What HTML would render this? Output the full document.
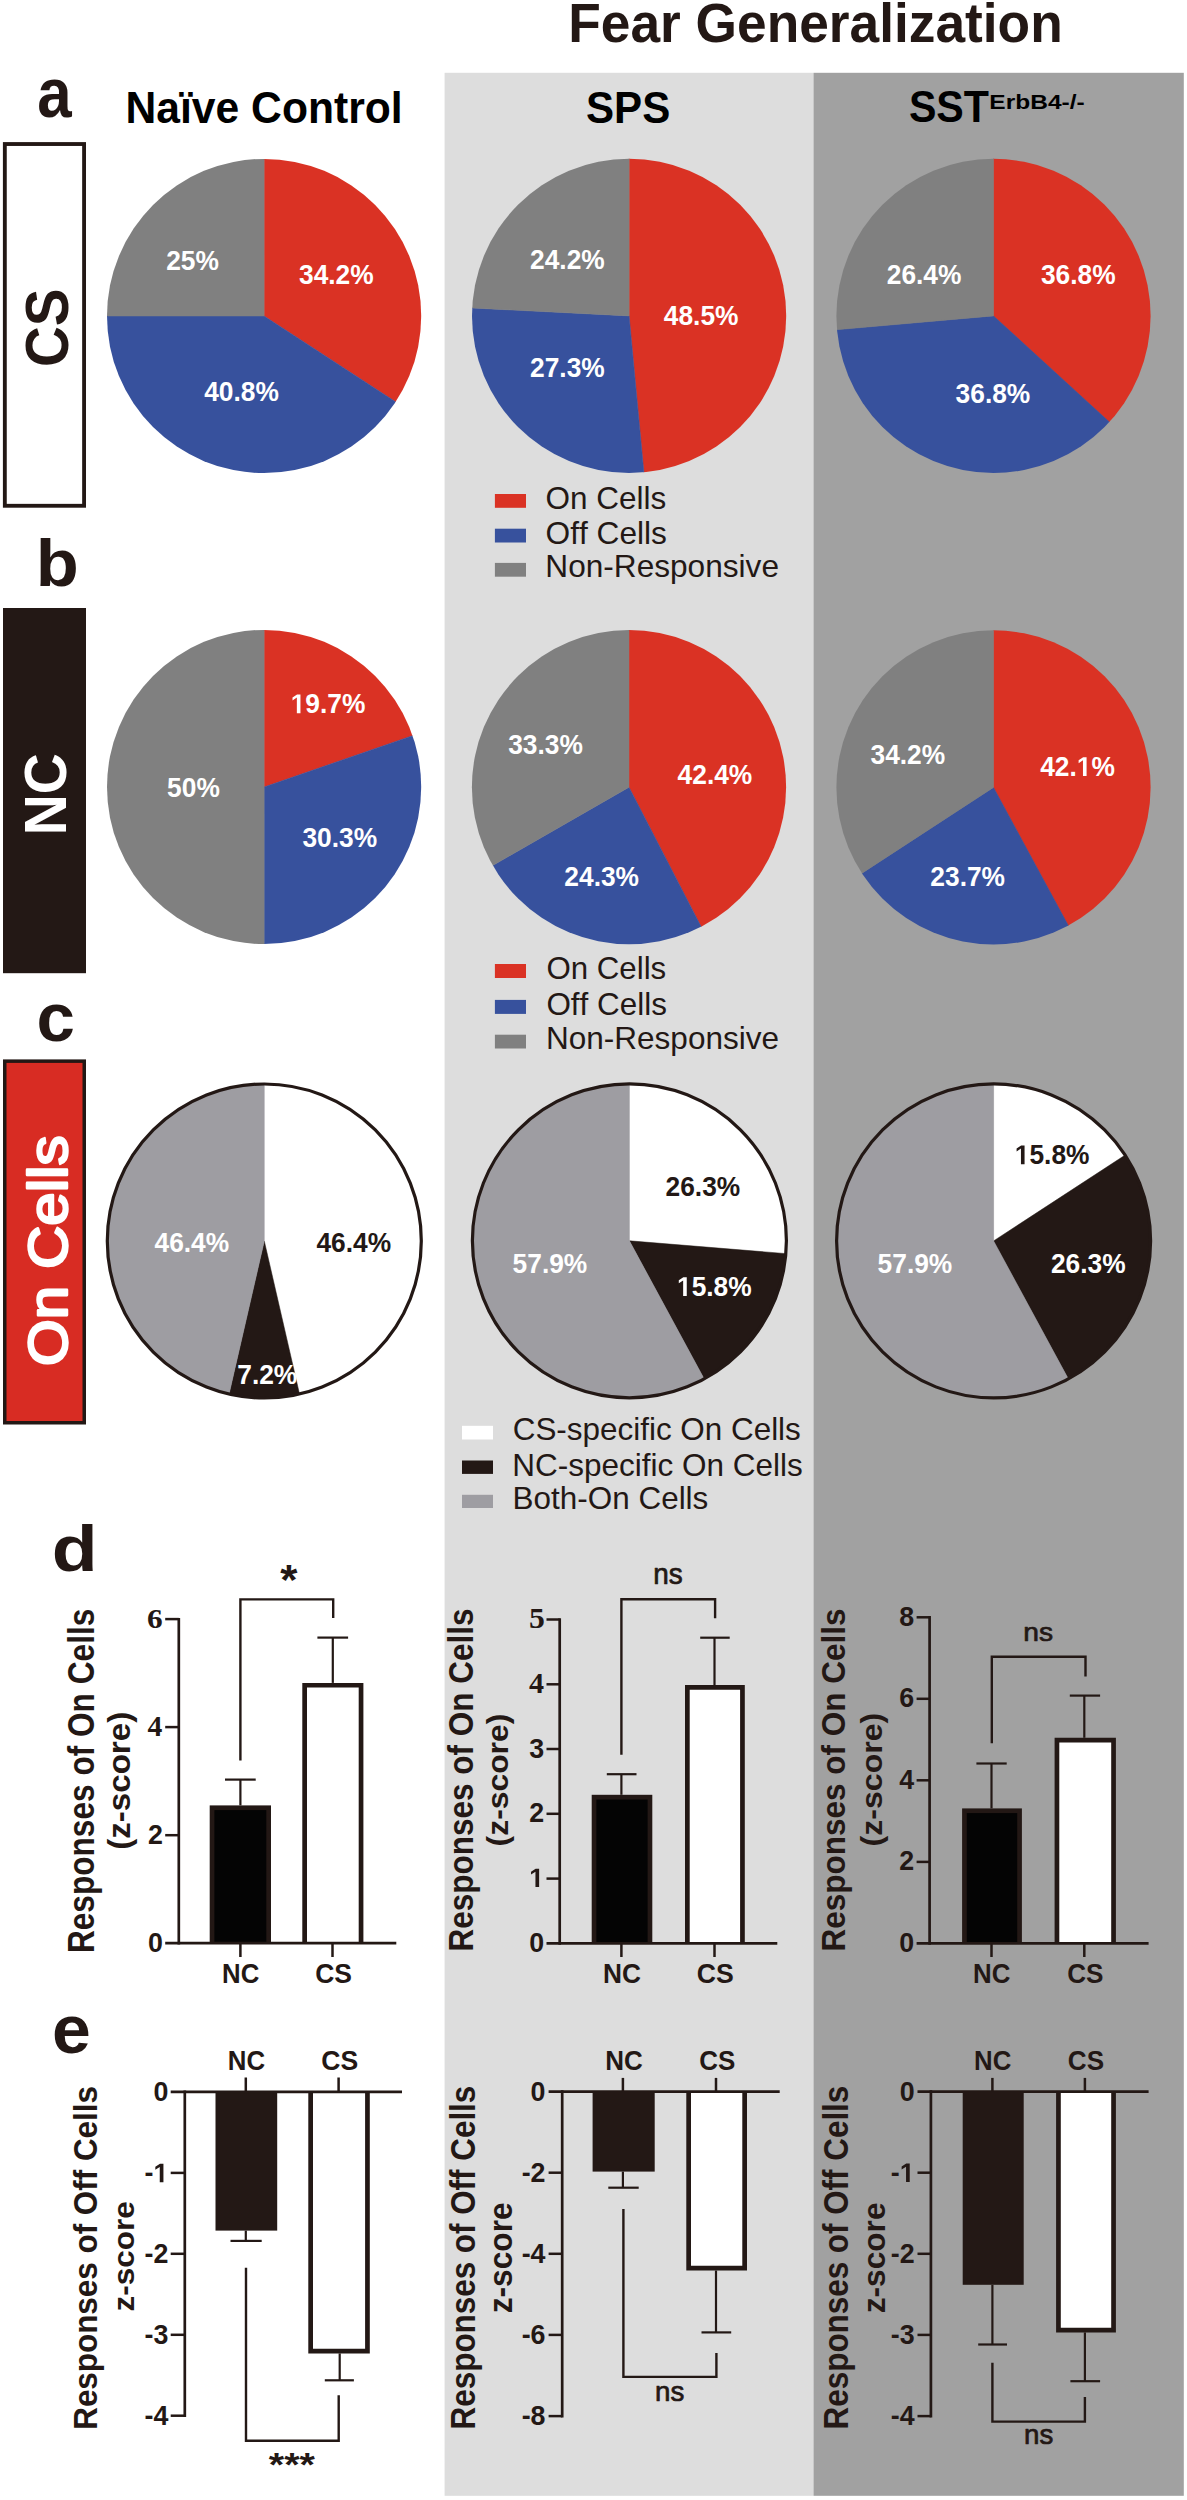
<!DOCTYPE html>
<html><head><meta charset="utf-8"><title>Fear Generalization</title>
<style>
html,body{margin:0;padding:0;background:#fff;}
svg{display:block;}
text{font-kerning:none;}
</style></head>
<body>
<svg width="1187" height="2500" viewBox="0 0 1187 2500">
<rect x="0" y="0" width="1187" height="2500" fill="#ffffff"/>
<rect x="444.60" y="72.80" width="369.20" height="2423.00" fill="#dddddd"/>
<rect x="813.60" y="72.80" width="370.20" height="2423.00" fill="#a1a1a1"/>
<text x="568.24" y="42.20" font-family='"Liberation Sans"' font-weight="700" font-size="55.81" textLength="494.47" lengthAdjust="spacingAndGlyphs" fill="#231815">Fear Generalization</text>
<text x="37.19" y="117.31" font-family='"Liberation Sans"' font-weight="700" font-size="70.64" textLength="34.42" lengthAdjust="spacingAndGlyphs" fill="#231815">a</text>
<text x="35.66" y="586.15" font-family='"Liberation Sans"' font-weight="700" font-size="66.86" textLength="43.03" lengthAdjust="spacingAndGlyphs" fill="#231815">b</text>
<text x="36.50" y="1041.13" font-family='"Liberation Sans"' font-weight="700" font-size="68.27" textLength="38.42" lengthAdjust="spacingAndGlyphs" fill="#231815">c</text>
<text x="51.72" y="1571.36" font-family='"Liberation Sans"' font-weight="700" font-size="65.36" textLength="45.94" lengthAdjust="spacingAndGlyphs" fill="#231815">d</text>
<text x="52.07" y="2053.04" font-family='"Liberation Sans"' font-weight="700" font-size="67.90" textLength="38.81" lengthAdjust="spacingAndGlyphs" fill="#231815">e</text>
<text x="125.55" y="122.60" font-family='"Liberation Sans"' font-weight="700" font-size="43.60" textLength="277.07" lengthAdjust="spacingAndGlyphs" fill="#000000">Naïve Control</text>
<text x="585.99" y="122.57" font-family='"Liberation Sans"' font-weight="700" font-size="44.35" textLength="84.26" lengthAdjust="spacingAndGlyphs" fill="#000000">SPS</text>
<text x="908.91" y="122.07" font-family='"Liberation Sans"' font-weight="700" font-size="43.78" textLength="80.03" lengthAdjust="spacingAndGlyphs" fill="#000000">SST</text>
<text x="989.36" y="109.00" font-family='"Liberation Sans"' font-weight="700" font-size="20.20" textLength="95.32" lengthAdjust="spacingAndGlyphs" fill="#000000">ErbB4-/-</text>
<rect x="4.83" y="144.03" width="79.25" height="361.75" fill="#ffffff" stroke="#231815" stroke-width="3.85"/>
<text x="-2.32" y="0.00" font-family='"Liberation Sans"' font-weight="700" font-size="60.59" textLength="78.63" lengthAdjust="spacingAndGlyphs" fill="#231815" transform="translate(68.01,364.80) rotate(-90)">CS</text>
<rect x="3.00" y="608.00" width="83.00" height="365.20" fill="#231815"/>
<text x="-3.80" y="0.00" font-family='"Liberation Sans"' font-weight="700" font-size="59.60" textLength="81.95" lengthAdjust="spacingAndGlyphs" fill="#ffffff" transform="translate(66.02,831.50) rotate(-90)">NC</text>
<rect x="4.75" y="1061.15" width="79.50" height="361.60" fill="#d82c23" stroke="#231815" stroke-width="3.5"/>
<text stroke="#ffffff" stroke-width="2.4" stroke-linejoin="round" x="-2.85" y="0.00" font-family='"Liberation Sans"' font-weight="400" font-size="54.60" textLength="230.42" lengthAdjust="spacingAndGlyphs" fill="#ffffff" transform="translate(66.67,1363.10) rotate(-90)">On Cells</text>
<clipPath id="pc1"><circle cx="264.1" cy="316.0" r="157.1"/></clipPath>
<g clip-path="url(#pc1)">
<path d="M264.10,316.00 L264.10,155.90 A160.1,160.1 0 0 1 398.19,403.48 Z" fill="#da3224" stroke="#da3224" stroke-width="0.5" stroke-linejoin="round"/>
<path d="M264.10,316.00 L398.19,403.48 A160.1,160.1 0 0 1 104.00,316.00 Z" fill="#37519d" stroke="#37519d" stroke-width="0.5" stroke-linejoin="round"/>
<path d="M264.10,316.00 L104.00,316.00 A160.1,160.1 0 0 1 264.10,155.90 Z" fill="#808080" stroke="#808080" stroke-width="0.5" stroke-linejoin="round"/>
</g>
<clipPath id="pc2"><circle cx="629.1" cy="315.9" r="157.1"/></clipPath>
<g clip-path="url(#pc2)">
<path d="M629.10,315.90 L629.10,155.80 A160.1,160.1 0 0 1 644.17,475.29 Z" fill="#da3224" stroke="#da3224" stroke-width="0.5" stroke-linejoin="round"/>
<path d="M629.10,315.90 L644.17,475.29 A160.1,160.1 0 0 1 469.20,307.86 Z" fill="#37519d" stroke="#37519d" stroke-width="0.5" stroke-linejoin="round"/>
<path d="M629.10,315.90 L469.20,307.86 A160.1,160.1 0 0 1 629.10,155.80 Z" fill="#808080" stroke="#808080" stroke-width="0.5" stroke-linejoin="round"/>
</g>
<clipPath id="pc3"><circle cx="993.5" cy="315.9" r="157.1"/></clipPath>
<g clip-path="url(#pc3)">
<path d="M993.50,315.90 L993.50,155.80 A160.1,160.1 0 0 1 1111.58,424.02 Z" fill="#da3224" stroke="#da3224" stroke-width="0.5" stroke-linejoin="round"/>
<path d="M993.50,315.90 L1111.58,424.02 A160.1,160.1 0 0 1 834.02,329.96 Z" fill="#37519d" stroke="#37519d" stroke-width="0.5" stroke-linejoin="round"/>
<path d="M993.50,315.90 L834.02,329.96 A160.1,160.1 0 0 1 993.50,155.80 Z" fill="#808080" stroke="#808080" stroke-width="0.5" stroke-linejoin="round"/>
</g>
<text x="166.13" y="269.70" font-family='"Liberation Sans"' font-weight="700" font-size="27.30" textLength="52.73" lengthAdjust="spacingAndGlyphs" fill="#ffffff">25%</text>
<text x="299.00" y="284.48" font-family='"Liberation Sans"' font-weight="700" font-size="27.30" textLength="74.70" lengthAdjust="spacingAndGlyphs" fill="#ffffff">34.2%</text>
<text x="204.20" y="401.20" font-family='"Liberation Sans"' font-weight="700" font-size="27.30" textLength="74.70" lengthAdjust="spacingAndGlyphs" fill="#ffffff">40.8%</text>
<text x="530.04" y="268.72" font-family='"Liberation Sans"' font-weight="700" font-size="27.30" textLength="74.70" lengthAdjust="spacingAndGlyphs" fill="#ffffff">24.2%</text>
<text x="663.80" y="325.00" font-family='"Liberation Sans"' font-weight="700" font-size="27.30" textLength="74.70" lengthAdjust="spacingAndGlyphs" fill="#ffffff">48.5%</text>
<text x="530.04" y="377.48" font-family='"Liberation Sans"' font-weight="700" font-size="27.30" textLength="74.70" lengthAdjust="spacingAndGlyphs" fill="#ffffff">27.3%</text>
<text x="886.74" y="284.40" font-family='"Liberation Sans"' font-weight="700" font-size="27.30" textLength="74.70" lengthAdjust="spacingAndGlyphs" fill="#ffffff">26.4%</text>
<text x="1040.90" y="284.38" font-family='"Liberation Sans"' font-weight="700" font-size="27.30" textLength="74.70" lengthAdjust="spacingAndGlyphs" fill="#ffffff">36.8%</text>
<text x="955.60" y="403.28" font-family='"Liberation Sans"' font-weight="700" font-size="27.30" textLength="74.70" lengthAdjust="spacingAndGlyphs" fill="#ffffff">36.8%</text>
<clipPath id="pc4"><circle cx="264.1" cy="787.0" r="157.1"/></clipPath>
<g clip-path="url(#pc4)">
<path d="M264.10,787.00 L264.10,626.90 A160.1,160.1 0 0 1 415.40,734.67 Z" fill="#da3224" stroke="#da3224" stroke-width="0.5" stroke-linejoin="round"/>
<path d="M264.10,787.00 L415.40,734.67 A160.1,160.1 0 0 1 264.10,947.10 Z" fill="#37519d" stroke="#37519d" stroke-width="0.5" stroke-linejoin="round"/>
<path d="M264.10,787.00 L264.10,947.10 A160.1,160.1 0 0 1 264.10,626.90 Z" fill="#808080" stroke="#808080" stroke-width="0.5" stroke-linejoin="round"/>
</g>
<clipPath id="pc5"><circle cx="629.0" cy="787.2" r="157.1"/></clipPath>
<g clip-path="url(#pc5)">
<path d="M629.00,787.20 L629.00,627.10 A160.1,160.1 0 0 1 702.58,929.39 Z" fill="#da3224" stroke="#da3224" stroke-width="0.5" stroke-linejoin="round"/>
<path d="M629.00,787.20 L702.58,929.39 A160.1,160.1 0 0 1 490.18,866.96 Z" fill="#37519d" stroke="#37519d" stroke-width="0.5" stroke-linejoin="round"/>
<path d="M629.00,787.20 L490.18,866.96 A160.1,160.1 0 0 1 629.00,627.10 Z" fill="#808080" stroke="#808080" stroke-width="0.5" stroke-linejoin="round"/>
</g>
<clipPath id="pc6"><circle cx="993.5" cy="787.4" r="157.1"/></clipPath>
<g clip-path="url(#pc6)">
<path d="M993.50,787.40 L993.50,627.30 A160.1,160.1 0 0 1 1069.75,928.18 Z" fill="#da3224" stroke="#da3224" stroke-width="0.5" stroke-linejoin="round"/>
<path d="M993.50,787.40 L1069.75,928.18 A160.1,160.1 0 0 1 859.41,874.88 Z" fill="#37519d" stroke="#37519d" stroke-width="0.5" stroke-linejoin="round"/>
<path d="M993.50,787.40 L859.41,874.88 A160.1,160.1 0 0 1 993.50,627.30 Z" fill="#808080" stroke="#808080" stroke-width="0.5" stroke-linejoin="round"/>
</g>
<text x="290.70" y="713.20" font-family='"Liberation Sans"' font-weight="700" font-size="27.30" textLength="74.70" lengthAdjust="spacingAndGlyphs" fill="#ffffff"> 9.7%</text><path d="M296.85,713.20 L296.85,697.60 L292.50,700.41 L292.50,697.47 L297.04,694.42 L300.46,694.42 L300.46,713.20 Z" fill="#ffffff"/>
<text x="167.08" y="797.40" font-family='"Liberation Sans"' font-weight="700" font-size="27.30" textLength="52.73" lengthAdjust="spacingAndGlyphs" fill="#ffffff">50%</text>
<text x="302.40" y="846.68" font-family='"Liberation Sans"' font-weight="700" font-size="27.30" textLength="74.70" lengthAdjust="spacingAndGlyphs" fill="#ffffff">30.3%</text>
<text x="508.20" y="754.38" font-family='"Liberation Sans"' font-weight="700" font-size="27.30" textLength="74.70" lengthAdjust="spacingAndGlyphs" fill="#ffffff">33.3%</text>
<text x="677.60" y="783.72" font-family='"Liberation Sans"' font-weight="700" font-size="27.30" textLength="74.70" lengthAdjust="spacingAndGlyphs" fill="#ffffff">42.4%</text>
<text x="564.34" y="885.98" font-family='"Liberation Sans"' font-weight="700" font-size="27.30" textLength="74.70" lengthAdjust="spacingAndGlyphs" fill="#ffffff">24.3%</text>
<text x="870.50" y="764.38" font-family='"Liberation Sans"' font-weight="700" font-size="27.30" textLength="74.70" lengthAdjust="spacingAndGlyphs" fill="#ffffff">34.2%</text>
<text x="1040.20" y="775.92" font-family='"Liberation Sans"' font-weight="700" font-size="27.30" textLength="74.70" lengthAdjust="spacingAndGlyphs" fill="#ffffff">42. %</text><path d="M1082.97,775.92 L1082.97,760.33 L1078.62,763.14 L1078.62,760.19 L1083.16,757.14 L1086.58,757.14 L1086.58,775.92 Z" fill="#ffffff"/>
<text x="930.34" y="885.98" font-family='"Liberation Sans"' font-weight="700" font-size="27.30" textLength="74.70" lengthAdjust="spacingAndGlyphs" fill="#ffffff">23.7%</text>
<clipPath id="pc7"><circle cx="264.3" cy="1241.0" r="157.0"/></clipPath>
<g clip-path="url(#pc7)">
<path d="M264.30,1241.00 L264.30,1081.00 A160.0,160.0 0 0 1 300.18,1396.92 Z" fill="#ffffff" stroke="#ffffff" stroke-width="0.5" stroke-linejoin="round"/>
<path d="M264.30,1241.00 L300.18,1396.92 A160.0,160.0 0 0 1 228.42,1396.92 Z" fill="#231815" stroke="#231815" stroke-width="0.5" stroke-linejoin="round"/>
<path d="M264.30,1241.00 L228.42,1396.92 A160.0,160.0 0 0 1 264.30,1081.00 Z" fill="#9e9da2" stroke="#9e9da2" stroke-width="0.5" stroke-linejoin="round"/>
</g>
<circle cx="264.3" cy="1241.0" r="157.0" fill="none" stroke="#231815" stroke-width="3.2"/>
<clipPath id="pc8"><circle cx="629.4" cy="1240.8" r="157.0"/></clipPath>
<g clip-path="url(#pc8)">
<path d="M629.40,1240.80 L629.40,1080.80 A160.0,160.0 0 0 1 788.87,1253.85 Z" fill="#ffffff" stroke="#ffffff" stroke-width="0.5" stroke-linejoin="round"/>
<path d="M629.40,1240.80 L788.87,1253.85 A160.0,160.0 0 0 1 705.60,1381.49 Z" fill="#231815" stroke="#231815" stroke-width="0.5" stroke-linejoin="round"/>
<path d="M629.40,1240.80 L705.60,1381.49 A160.0,160.0 0 1 1 629.40,1080.80 Z" fill="#9e9da2" stroke="#9e9da2" stroke-width="0.5" stroke-linejoin="round"/>
</g>
<circle cx="629.4" cy="1240.8" r="157.0" fill="none" stroke="#231815" stroke-width="3.2"/>
<clipPath id="pc9"><circle cx="993.6" cy="1240.9" r="157.0"/></clipPath>
<g clip-path="url(#pc9)">
<path d="M993.60,1240.90 L993.60,1080.90 A160.0,160.0 0 0 1 1127.60,1153.48 Z" fill="#ffffff" stroke="#ffffff" stroke-width="0.5" stroke-linejoin="round"/>
<path d="M993.60,1240.90 L1127.60,1153.48 A160.0,160.0 0 0 1 1069.80,1381.59 Z" fill="#231815" stroke="#231815" stroke-width="0.5" stroke-linejoin="round"/>
<path d="M993.60,1240.90 L1069.80,1381.59 A160.0,160.0 0 1 1 993.60,1080.90 Z" fill="#9e9da2" stroke="#9e9da2" stroke-width="0.5" stroke-linejoin="round"/>
</g>
<circle cx="993.6" cy="1240.9" r="157.0" fill="none" stroke="#231815" stroke-width="3.2"/>
<text x="154.50" y="1251.90" font-family='"Liberation Sans"' font-weight="700" font-size="27.30" textLength="74.70" lengthAdjust="spacingAndGlyphs" fill="#ffffff">46.4%</text>
<text x="316.40" y="1251.90" font-family='"Liberation Sans"' font-weight="700" font-size="27.30" textLength="74.70" lengthAdjust="spacingAndGlyphs" fill="#231815">46.4%</text>
<text x="237.26" y="1383.92" font-family='"Liberation Sans"' font-weight="700" font-size="27.30" textLength="60.05" lengthAdjust="spacingAndGlyphs" fill="#ffffff">7.2%</text>
<text x="665.54" y="1196.48" font-family='"Liberation Sans"' font-weight="700" font-size="27.30" textLength="74.70" lengthAdjust="spacingAndGlyphs" fill="#231815">26.3%</text>
<text x="677.00" y="1296.00" font-family='"Liberation Sans"' font-weight="700" font-size="27.30" textLength="74.70" lengthAdjust="spacingAndGlyphs" fill="#ffffff"> 5.8%</text><path d="M683.15,1296.00 L683.15,1280.40 L678.80,1283.21 L678.80,1280.27 L683.34,1277.22 L686.76,1277.22 L686.76,1296.00 Z" fill="#ffffff"/>
<text x="512.59" y="1273.00" font-family='"Liberation Sans"' font-weight="700" font-size="27.30" textLength="74.70" lengthAdjust="spacingAndGlyphs" fill="#ffffff">57.9%</text>
<text x="1014.80" y="1164.20" font-family='"Liberation Sans"' font-weight="700" font-size="27.30" textLength="74.70" lengthAdjust="spacingAndGlyphs" fill="#231815"> 5.8%</text><path d="M1020.95,1164.20 L1020.95,1148.60 L1016.60,1151.41 L1016.60,1148.47 L1021.14,1145.42 L1024.56,1145.42 L1024.56,1164.20 Z" fill="#231815"/>
<text x="1050.94" y="1272.98" font-family='"Liberation Sans"' font-weight="700" font-size="27.30" textLength="74.70" lengthAdjust="spacingAndGlyphs" fill="#ffffff">26.3%</text>
<text x="877.59" y="1273.00" font-family='"Liberation Sans"' font-weight="700" font-size="27.30" textLength="74.70" lengthAdjust="spacingAndGlyphs" fill="#ffffff">57.9%</text>
<rect x="494.90" y="494.00" width="31.10" height="13.80" fill="#da3224"/>
<text x="545.51" y="508.70" font-family='"Liberation Sans"' font-weight="400" font-size="31.25" textLength="120.73" lengthAdjust="spacingAndGlyphs" fill="#231815">On Cells</text>
<rect x="494.90" y="528.70" width="31.10" height="13.80" fill="#37519d"/>
<text x="545.50" y="543.50" font-family='"Liberation Sans"' font-weight="400" font-size="31.25" textLength="121.44" lengthAdjust="spacingAndGlyphs" fill="#231815">Off Cells</text>
<rect x="494.90" y="562.90" width="31.10" height="13.80" fill="#808080"/>
<text x="545.31" y="577.30" font-family='"Liberation Sans"' font-weight="400" font-size="31.25" textLength="233.70" lengthAdjust="spacingAndGlyphs" fill="#231815">Non-Responsive</text>
<rect x="494.90" y="964.00" width="31.10" height="14.00" fill="#da3224"/>
<text x="546.42" y="978.70" font-family='"Liberation Sans"' font-weight="400" font-size="31.25" textLength="119.81" lengthAdjust="spacingAndGlyphs" fill="#231815">On Cells</text>
<rect x="494.90" y="999.90" width="31.10" height="14.00" fill="#37519d"/>
<text x="546.41" y="1014.60" font-family='"Liberation Sans"' font-weight="400" font-size="31.25" textLength="120.52" lengthAdjust="spacingAndGlyphs" fill="#231815">Off Cells</text>
<rect x="494.90" y="1034.70" width="31.10" height="13.80" fill="#808080"/>
<text x="546.01" y="1048.90" font-family='"Liberation Sans"' font-weight="400" font-size="31.25" textLength="232.99" lengthAdjust="spacingAndGlyphs" fill="#231815">Non-Responsive</text>
<rect x="462.00" y="1425.80" width="31.00" height="13.70" fill="#ffffff"/>
<text x="512.70" y="1440.40" font-family='"Liberation Sans"' font-weight="400" font-size="31.25" textLength="288.13" lengthAdjust="spacingAndGlyphs" fill="#231815">CS-specific On Cells</text>
<rect x="462.00" y="1460.50" width="31.00" height="13.40" fill="#231815"/>
<text x="512.22" y="1475.80" font-family='"Liberation Sans"' font-weight="400" font-size="31.25" textLength="290.62" lengthAdjust="spacingAndGlyphs" fill="#231815">NC-specific On Cells</text>
<rect x="462.00" y="1494.80" width="31.00" height="13.20" fill="#9e9da2"/>
<text x="512.62" y="1509.20" font-family='"Liberation Sans"' font-weight="400" font-size="31.25" textLength="195.72" lengthAdjust="spacingAndGlyphs" fill="#231815">Both-On Cells</text>
<rect x="209.70" y="1805.40" width="61.30" height="137.80" fill="#231815"/>
<rect x="214.40" y="1810.10" width="51.90" height="133.10" fill="#040404"/>
<rect x="304.65" y="1685.25" width="56.40" height="257.95" fill="#ffffff"/>
<polyline points="304.65,1943.20 304.65,1685.25 361.05,1685.25 361.05,1943.20" fill="none" stroke="#231815" stroke-width="4.7" stroke-linejoin="miter"/>
<line x1="240.40" y1="1805.40" x2="240.40" y2="1779.60" stroke="#231815" stroke-width="2.2" stroke-linecap="butt"/>
<line x1="225.00" y1="1779.60" x2="255.70" y2="1779.60" stroke="#231815" stroke-width="2.2" stroke-linecap="butt"/>
<line x1="332.80" y1="1682.90" x2="332.80" y2="1637.60" stroke="#231815" stroke-width="2.2" stroke-linecap="butt"/>
<line x1="317.40" y1="1637.60" x2="348.10" y2="1637.60" stroke="#231815" stroke-width="2.2" stroke-linecap="butt"/>
<line x1="178.80" y1="1618.00" x2="178.80" y2="1944.50" stroke="#231815" stroke-width="2.7" stroke-linecap="butt"/>
<line x1="165.20" y1="1943.20" x2="396.30" y2="1943.20" stroke="#231815" stroke-width="2.7" stroke-linecap="butt"/>
<line x1="165.20" y1="1619.10" x2="178.80" y2="1619.10" stroke="#231815" stroke-width="2.5" stroke-linecap="butt"/>
<line x1="165.20" y1="1727.10" x2="178.80" y2="1727.10" stroke="#231815" stroke-width="2.5" stroke-linecap="butt"/>
<line x1="165.20" y1="1835.20" x2="178.80" y2="1835.20" stroke="#231815" stroke-width="2.5" stroke-linecap="butt"/>
<line x1="240.40" y1="1943.20" x2="240.40" y2="1957.00" stroke="#231815" stroke-width="2.5" stroke-linecap="butt"/>
<line x1="332.50" y1="1943.20" x2="332.50" y2="1957.00" stroke="#231815" stroke-width="2.5" stroke-linecap="butt"/>
<polyline points="240.40,1760.50 240.40,1599.40 333.20,1599.40 333.20,1618.00" fill="none" stroke="#231815" stroke-width="2.4" stroke-linejoin="miter"/>
<text x="280.17" y="1594.19" font-family='"Liberation Sans"' font-weight="700" font-size="43.00" textLength="17.17" lengthAdjust="spacingAndGlyphs" fill="#231815">*</text>
<text x="222.08" y="1983.34" font-family='"Liberation Sans"' font-weight="700" font-size="26.98" textLength="37.23" lengthAdjust="spacingAndGlyphs" fill="#231815">NC</text>
<text x="315.21" y="1983.34" font-family='"Liberation Sans"' font-weight="700" font-size="26.98" textLength="36.82" lengthAdjust="spacingAndGlyphs" fill="#231815">CS</text>
<text x="147.13" y="1627.73" font-family='"Liberation Serif"' font-weight="700" font-size="28.13" textLength="15.69" lengthAdjust="spacingAndGlyphs" fill="#231815">6</text>
<text x="147.59" y="1735.70" font-family='"Liberation Serif"' font-weight="700" font-size="28.41" textLength="14.86" lengthAdjust="spacingAndGlyphs" fill="#231815">4</text>
<text x="162.90" y="1844.30" font-family='"Liberation Sans"' font-weight="700" font-size="26.80" text-anchor="end" fill="#231815">2</text>
<text x="162.90" y="1951.70" font-family='"Liberation Sans"' font-weight="700" font-size="26.80" text-anchor="end" fill="#231815">0</text>
<text x="-2.12" y="0.00" font-family='"Liberation Sans"' font-weight="700" font-size="36.05" textLength="344.41" lengthAdjust="spacingAndGlyphs" fill="#231815" transform="translate(93.80,1951.00) rotate(-90)">Responses of On Cells</text>
<text x="-1.65" y="0.00" font-family='"Liberation Sans"' font-weight="700" font-size="31.33" textLength="137.90" lengthAdjust="spacingAndGlyphs" fill="#231815" transform="translate(129.50,1848.10) rotate(-90)">(z-score)</text>
<rect x="591.70" y="1794.80" width="60.60" height="148.60" fill="#231815"/>
<rect x="596.40" y="1799.50" width="51.20" height="143.90" fill="#040404"/>
<rect x="687.35" y="1687.35" width="55.10" height="256.05" fill="#ffffff"/>
<polyline points="687.35,1943.40 687.35,1687.35 742.45,1687.35 742.45,1943.40" fill="none" stroke="#231815" stroke-width="4.7" stroke-linejoin="miter"/>
<line x1="621.40" y1="1794.80" x2="621.40" y2="1774.20" stroke="#231815" stroke-width="2.2" stroke-linecap="butt"/>
<line x1="606.80" y1="1774.20" x2="636.50" y2="1774.20" stroke="#231815" stroke-width="2.2" stroke-linecap="butt"/>
<line x1="714.50" y1="1685.00" x2="714.50" y2="1637.70" stroke="#231815" stroke-width="2.2" stroke-linecap="butt"/>
<line x1="700.20" y1="1637.70" x2="729.70" y2="1637.70" stroke="#231815" stroke-width="2.2" stroke-linecap="butt"/>
<line x1="559.70" y1="1618.20" x2="559.70" y2="1944.70" stroke="#231815" stroke-width="2.7" stroke-linecap="butt"/>
<line x1="546.50" y1="1943.40" x2="777.30" y2="1943.40" stroke="#231815" stroke-width="2.7" stroke-linecap="butt"/>
<line x1="546.50" y1="1619.50" x2="559.70" y2="1619.50" stroke="#231815" stroke-width="2.5" stroke-linecap="butt"/>
<line x1="546.50" y1="1684.30" x2="559.70" y2="1684.30" stroke="#231815" stroke-width="2.5" stroke-linecap="butt"/>
<line x1="546.50" y1="1749.00" x2="559.70" y2="1749.00" stroke="#231815" stroke-width="2.5" stroke-linecap="butt"/>
<line x1="546.50" y1="1813.80" x2="559.70" y2="1813.80" stroke="#231815" stroke-width="2.5" stroke-linecap="butt"/>
<line x1="546.50" y1="1878.60" x2="559.70" y2="1878.60" stroke="#231815" stroke-width="2.5" stroke-linecap="butt"/>
<line x1="621.40" y1="1943.40" x2="621.40" y2="1957.00" stroke="#231815" stroke-width="2.5" stroke-linecap="butt"/>
<line x1="714.50" y1="1943.40" x2="714.50" y2="1957.00" stroke="#231815" stroke-width="2.5" stroke-linecap="butt"/>
<polyline points="621.40,1754.70 621.40,1599.20 715.10,1599.20 715.10,1618.30" fill="none" stroke="#231815" stroke-width="2.4" stroke-linejoin="miter"/>
<text stroke="#231815" stroke-width="0.7" stroke-linejoin="round" x="653.20" y="1584.36" font-family='"Liberation Sans"' font-weight="400" font-size="29.20" textLength="29.46" lengthAdjust="spacingAndGlyphs" fill="#231815">ns</text>
<text x="602.94" y="1983.34" font-family='"Liberation Sans"' font-weight="700" font-size="26.98" textLength="37.98" lengthAdjust="spacingAndGlyphs" fill="#231815">NC</text>
<text x="696.71" y="1983.34" font-family='"Liberation Sans"' font-weight="700" font-size="26.98" textLength="37.03" lengthAdjust="spacingAndGlyphs" fill="#231815">CS</text>
<text x="529.13" y="1628.32" font-family='"Liberation Serif"' font-weight="700" font-size="28.89" textLength="15.83" lengthAdjust="spacingAndGlyphs" fill="#231815">5</text>
<text x="528.99" y="1693.00" font-family='"Liberation Serif"' font-weight="700" font-size="28.41" textLength="15.07" lengthAdjust="spacingAndGlyphs" fill="#231815">4</text>
<text x="544.10" y="1758.10" font-family='"Liberation Sans"' font-weight="700" font-size="26.80" text-anchor="end" fill="#231815">3</text>
<text x="544.10" y="1822.10" font-family='"Liberation Sans"' font-weight="700" font-size="26.80" text-anchor="end" fill="#231815">2</text>
<text x="544.10" y="1887.10" font-family='"Liberation Sans"' font-weight="700" font-size="26.80" text-anchor="end" fill="#231815"> </text><path d="M535.45,1887.10 L535.45,1871.79 L531.03,1874.55 L531.03,1871.66 L535.65,1868.66 L539.13,1868.66 L539.13,1887.10 Z" fill="#231815"/>
<text x="544.10" y="1951.60" font-family='"Liberation Sans"' font-weight="700" font-size="26.80" text-anchor="end" fill="#231815">0</text>
<text x="-2.11" y="0.00" font-family='"Liberation Sans"' font-weight="700" font-size="35.32" textLength="343.10" lengthAdjust="spacingAndGlyphs" fill="#231815" transform="translate(473.40,1949.50) rotate(-90)">Responses of On Cells</text>
<text x="-1.59" y="0.00" font-family='"Liberation Sans"' font-weight="700" font-size="29.29" textLength="132.67" lengthAdjust="spacingAndGlyphs" fill="#231815" transform="translate(508.22,1844.80) rotate(-90)">(z-score)</text>
<rect x="962.10" y="1808.40" width="59.80" height="135.00" fill="#231815"/>
<rect x="966.80" y="1813.10" width="50.40" height="130.30" fill="#040404"/>
<rect x="1056.95" y="1740.15" width="56.60" height="203.25" fill="#ffffff"/>
<polyline points="1056.95,1943.40 1056.95,1740.15 1113.55,1740.15 1113.55,1943.40" fill="none" stroke="#231815" stroke-width="4.7" stroke-linejoin="miter"/>
<line x1="991.50" y1="1808.40" x2="991.50" y2="1763.50" stroke="#231815" stroke-width="2.2" stroke-linecap="butt"/>
<line x1="976.40" y1="1763.50" x2="1006.70" y2="1763.50" stroke="#231815" stroke-width="2.2" stroke-linecap="butt"/>
<line x1="1084.30" y1="1737.80" x2="1084.30" y2="1695.60" stroke="#231815" stroke-width="2.2" stroke-linecap="butt"/>
<line x1="1069.80" y1="1695.60" x2="1100.10" y2="1695.60" stroke="#231815" stroke-width="2.2" stroke-linecap="butt"/>
<line x1="929.60" y1="1616.00" x2="929.60" y2="1944.70" stroke="#231815" stroke-width="2.7" stroke-linecap="butt"/>
<line x1="916.60" y1="1943.40" x2="1148.60" y2="1943.40" stroke="#231815" stroke-width="2.7" stroke-linecap="butt"/>
<line x1="916.60" y1="1617.30" x2="929.60" y2="1617.30" stroke="#231815" stroke-width="2.5" stroke-linecap="butt"/>
<line x1="916.60" y1="1698.80" x2="929.60" y2="1698.80" stroke="#231815" stroke-width="2.5" stroke-linecap="butt"/>
<line x1="916.60" y1="1780.30" x2="929.60" y2="1780.30" stroke="#231815" stroke-width="2.5" stroke-linecap="butt"/>
<line x1="916.60" y1="1861.90" x2="929.60" y2="1861.90" stroke="#231815" stroke-width="2.5" stroke-linecap="butt"/>
<line x1="991.50" y1="1943.40" x2="991.50" y2="1957.00" stroke="#231815" stroke-width="2.5" stroke-linecap="butt"/>
<line x1="1084.30" y1="1943.40" x2="1084.30" y2="1957.00" stroke="#231815" stroke-width="2.5" stroke-linecap="butt"/>
<polyline points="991.80,1743.20 991.80,1656.70 1085.50,1656.70 1085.50,1676.50" fill="none" stroke="#231815" stroke-width="2.4" stroke-linejoin="miter"/>
<text stroke="#231815" stroke-width="0.7" stroke-linejoin="round" x="1023.38" y="1641.19" font-family='"Liberation Sans"' font-weight="400" font-size="26.47" textLength="29.79" lengthAdjust="spacingAndGlyphs" fill="#231815">ns</text>
<text x="973.07" y="1983.34" font-family='"Liberation Sans"' font-weight="700" font-size="26.98" textLength="37.34" lengthAdjust="spacingAndGlyphs" fill="#231815">NC</text>
<text x="1067.23" y="1983.34" font-family='"Liberation Sans"' font-weight="700" font-size="26.98" textLength="36.29" lengthAdjust="spacingAndGlyphs" fill="#231815">CS</text>
<text x="914.10" y="1625.70" font-family='"Liberation Sans"' font-weight="700" font-size="26.80" text-anchor="end" fill="#231815">8</text>
<text x="914.10" y="1707.20" font-family='"Liberation Sans"' font-weight="700" font-size="26.80" text-anchor="end" fill="#231815">6</text>
<text x="914.10" y="1789.40" font-family='"Liberation Sans"' font-weight="700" font-size="26.80" text-anchor="end" fill="#231815">4</text>
<text x="914.10" y="1870.30" font-family='"Liberation Sans"' font-weight="700" font-size="26.80" text-anchor="end" fill="#231815">2</text>
<text x="914.10" y="1951.70" font-family='"Liberation Sans"' font-weight="700" font-size="26.80" text-anchor="end" fill="#231815">0</text>
<text x="-2.11" y="0.00" font-family='"Liberation Sans"' font-weight="700" font-size="32.99" textLength="343.10" lengthAdjust="spacingAndGlyphs" fill="#231815" transform="translate(845.30,1949.50) rotate(-90)">Responses of On Cells</text>
<text x="-1.60" y="0.00" font-family='"Liberation Sans"' font-weight="700" font-size="29.29" textLength="133.59" lengthAdjust="spacingAndGlyphs" fill="#231815" transform="translate(881.72,1844.80) rotate(-90)">(z-score)</text>
<rect x="215.50" y="2091.90" width="61.70" height="138.70" fill="#231815"/>
<rect x="310.65" y="2091.90" width="56.80" height="259.15" fill="#ffffff"/>
<polyline points="310.65,2091.90 310.65,2351.05 367.45,2351.05 367.45,2091.90" fill="none" stroke="#231815" stroke-width="4.7" stroke-linejoin="miter"/>
<line x1="245.80" y1="2230.60" x2="245.80" y2="2240.90" stroke="#231815" stroke-width="2.2" stroke-linecap="butt"/>
<line x1="230.50" y1="2240.90" x2="261.70" y2="2240.90" stroke="#231815" stroke-width="2.2" stroke-linecap="butt"/>
<line x1="339.70" y1="2353.40" x2="339.70" y2="2380.30" stroke="#231815" stroke-width="2.2" stroke-linecap="butt"/>
<line x1="324.80" y1="2380.30" x2="353.90" y2="2380.30" stroke="#231815" stroke-width="2.2" stroke-linecap="butt"/>
<line x1="184.80" y1="2090.60" x2="184.80" y2="2417.00" stroke="#231815" stroke-width="2.7" stroke-linecap="butt"/>
<line x1="170.70" y1="2091.90" x2="402.00" y2="2091.90" stroke="#231815" stroke-width="2.7" stroke-linecap="butt"/>
<line x1="170.70" y1="2172.90" x2="184.80" y2="2172.90" stroke="#231815" stroke-width="2.5" stroke-linecap="butt"/>
<line x1="170.70" y1="2253.80" x2="184.80" y2="2253.80" stroke="#231815" stroke-width="2.5" stroke-linecap="butt"/>
<line x1="170.70" y1="2334.80" x2="184.80" y2="2334.80" stroke="#231815" stroke-width="2.5" stroke-linecap="butt"/>
<line x1="170.70" y1="2415.70" x2="184.80" y2="2415.70" stroke="#231815" stroke-width="2.5" stroke-linecap="butt"/>
<line x1="245.80" y1="2077.50" x2="245.80" y2="2091.90" stroke="#231815" stroke-width="2.5" stroke-linecap="butt"/>
<line x1="338.60" y1="2077.50" x2="338.60" y2="2091.90" stroke="#231815" stroke-width="2.5" stroke-linecap="butt"/>
<polyline points="246.00,2267.80 246.00,2440.80 338.70,2440.80 338.70,2395.20" fill="none" stroke="#231815" stroke-width="2.4" stroke-linejoin="miter"/>
<text x="268.78" y="2475.60" font-family='"Liberation Sans"' font-weight="700" font-size="33.86" textLength="46.15" lengthAdjust="spacingAndGlyphs" fill="#231815">***</text>
<text x="227.77" y="2069.74" font-family='"Liberation Sans"' font-weight="700" font-size="27.12" textLength="37.34" lengthAdjust="spacingAndGlyphs" fill="#231815">NC</text>
<text x="321.31" y="2069.74" font-family='"Liberation Sans"' font-weight="700" font-size="27.12" textLength="36.93" lengthAdjust="spacingAndGlyphs" fill="#231815">CS</text>
<text x="168.40" y="2101.20" font-family='"Liberation Sans"' font-weight="700" font-size="26.80" text-anchor="end" fill="#231815">0</text>
<text x="168.40" y="2182.20" font-family='"Liberation Sans"' font-weight="700" font-size="26.80" text-anchor="end" fill="#231815">- </text><path d="M159.75,2182.20 L159.75,2166.89 L155.33,2169.65 L155.33,2166.76 L159.95,2163.76 L163.43,2163.76 L163.43,2182.20 Z" fill="#231815"/>
<text x="168.40" y="2263.10" font-family='"Liberation Sans"' font-weight="700" font-size="26.80" text-anchor="end" fill="#231815">-2</text>
<text x="168.40" y="2344.10" font-family='"Liberation Sans"' font-weight="700" font-size="26.80" text-anchor="end" fill="#231815">-3</text>
<text x="168.40" y="2425.00" font-family='"Liberation Sans"' font-weight="700" font-size="26.80" text-anchor="end" fill="#231815">-4</text>
<text x="-2.10" y="0.00" font-family='"Liberation Sans"' font-weight="700" font-size="33.43" textLength="343.79" lengthAdjust="spacingAndGlyphs" fill="#231815" transform="translate(97.30,2427.70) rotate(-90)">Responses of Off Cells</text>
<text x="-1.26" y="0.00" font-family='"Liberation Sans"' font-weight="700" font-size="29.18" textLength="110.24" lengthAdjust="spacingAndGlyphs" fill="#231815" transform="translate(134.22,2310.20) rotate(-90)">z-score</text>
<rect x="592.60" y="2091.60" width="62.10" height="80.00" fill="#231815"/>
<rect x="688.65" y="2091.60" width="56.00" height="176.55" fill="#ffffff"/>
<polyline points="688.65,2091.60 688.65,2268.15 744.65,2268.15 744.65,2091.60" fill="none" stroke="#231815" stroke-width="4.7" stroke-linejoin="miter"/>
<line x1="622.90" y1="2171.60" x2="622.90" y2="2187.70" stroke="#231815" stroke-width="2.2" stroke-linecap="butt"/>
<line x1="608.30" y1="2187.70" x2="638.70" y2="2187.70" stroke="#231815" stroke-width="2.2" stroke-linecap="butt"/>
<line x1="716.00" y1="2270.50" x2="716.00" y2="2332.40" stroke="#231815" stroke-width="2.2" stroke-linecap="butt"/>
<line x1="701.50" y1="2332.40" x2="731.20" y2="2332.40" stroke="#231815" stroke-width="2.2" stroke-linecap="butt"/>
<line x1="562.20" y1="2090.30" x2="562.20" y2="2417.40" stroke="#231815" stroke-width="2.7" stroke-linecap="butt"/>
<line x1="548.60" y1="2091.60" x2="779.70" y2="2091.60" stroke="#231815" stroke-width="2.7" stroke-linecap="butt"/>
<line x1="548.60" y1="2172.70" x2="562.20" y2="2172.70" stroke="#231815" stroke-width="2.5" stroke-linecap="butt"/>
<line x1="548.60" y1="2253.80" x2="562.20" y2="2253.80" stroke="#231815" stroke-width="2.5" stroke-linecap="butt"/>
<line x1="548.60" y1="2334.90" x2="562.20" y2="2334.90" stroke="#231815" stroke-width="2.5" stroke-linecap="butt"/>
<line x1="548.60" y1="2416.10" x2="562.20" y2="2416.10" stroke="#231815" stroke-width="2.5" stroke-linecap="butt"/>
<line x1="622.90" y1="2077.90" x2="622.90" y2="2091.60" stroke="#231815" stroke-width="2.5" stroke-linecap="butt"/>
<line x1="716.00" y1="2077.90" x2="716.00" y2="2091.60" stroke="#231815" stroke-width="2.5" stroke-linecap="butt"/>
<polyline points="623.40,2209.00 623.40,2376.90 716.40,2376.90 716.40,2353.00" fill="none" stroke="#231815" stroke-width="2.4" stroke-linejoin="miter"/>
<text stroke="#231815" stroke-width="0.7" stroke-linejoin="round" x="655.11" y="2400.68" font-family='"Liberation Sans"' font-weight="400" font-size="27.74" textLength="29.24" lengthAdjust="spacingAndGlyphs" fill="#231815">ns</text>
<text x="605.26" y="2069.74" font-family='"Liberation Sans"' font-weight="700" font-size="27.12" textLength="37.55" lengthAdjust="spacingAndGlyphs" fill="#231815">NC</text>
<text x="699.13" y="2069.74" font-family='"Liberation Sans"' font-weight="700" font-size="27.12" textLength="36.08" lengthAdjust="spacingAndGlyphs" fill="#231815">CS</text>
<text x="545.50" y="2101.20" font-family='"Liberation Sans"' font-weight="700" font-size="26.80" text-anchor="end" fill="#231815">0</text>
<text x="545.50" y="2182.00" font-family='"Liberation Sans"' font-weight="700" font-size="26.80" text-anchor="end" fill="#231815">-2</text>
<text x="545.50" y="2263.10" font-family='"Liberation Sans"' font-weight="700" font-size="26.80" text-anchor="end" fill="#231815">-4</text>
<text x="545.50" y="2344.20" font-family='"Liberation Sans"' font-weight="700" font-size="26.80" text-anchor="end" fill="#231815">-6</text>
<text x="545.50" y="2425.40" font-family='"Liberation Sans"' font-weight="700" font-size="26.80" text-anchor="end" fill="#231815">-8</text>
<text x="-2.10" y="0.00" font-family='"Liberation Sans"' font-weight="700" font-size="35.32" textLength="343.69" lengthAdjust="spacingAndGlyphs" fill="#231815" transform="translate(474.90,2427.30) rotate(-90)">Responses of Off Cells</text>
<text x="-1.27" y="0.00" font-family='"Liberation Sans"' font-weight="700" font-size="33.19" textLength="110.95" lengthAdjust="spacingAndGlyphs" fill="#231815" transform="translate(512.48,2312.10) rotate(-90)">z-score</text>
<rect x="962.70" y="2091.60" width="61.00" height="193.20" fill="#231815"/>
<rect x="1058.45" y="2091.60" width="55.10" height="238.45" fill="#ffffff"/>
<polyline points="1058.45,2091.60 1058.45,2330.05 1113.55,2330.05 1113.55,2091.60" fill="none" stroke="#231815" stroke-width="4.7" stroke-linejoin="miter"/>
<line x1="992.40" y1="2284.80" x2="992.40" y2="2344.50" stroke="#231815" stroke-width="2.2" stroke-linecap="butt"/>
<line x1="978.20" y1="2344.50" x2="1007.00" y2="2344.50" stroke="#231815" stroke-width="2.2" stroke-linecap="butt"/>
<line x1="1084.90" y1="2332.40" x2="1084.90" y2="2381.20" stroke="#231815" stroke-width="2.2" stroke-linecap="butt"/>
<line x1="1070.40" y1="2381.20" x2="1100.10" y2="2381.20" stroke="#231815" stroke-width="2.2" stroke-linecap="butt"/>
<line x1="930.90" y1="2090.30" x2="930.90" y2="2417.40" stroke="#231815" stroke-width="2.7" stroke-linecap="butt"/>
<line x1="917.50" y1="2091.60" x2="1148.60" y2="2091.60" stroke="#231815" stroke-width="2.7" stroke-linecap="butt"/>
<line x1="917.50" y1="2172.70" x2="930.90" y2="2172.70" stroke="#231815" stroke-width="2.5" stroke-linecap="butt"/>
<line x1="917.50" y1="2253.80" x2="930.90" y2="2253.80" stroke="#231815" stroke-width="2.5" stroke-linecap="butt"/>
<line x1="917.50" y1="2334.90" x2="930.90" y2="2334.90" stroke="#231815" stroke-width="2.5" stroke-linecap="butt"/>
<line x1="917.50" y1="2416.10" x2="930.90" y2="2416.10" stroke="#231815" stroke-width="2.5" stroke-linecap="butt"/>
<line x1="992.40" y1="2077.90" x2="992.40" y2="2091.60" stroke="#231815" stroke-width="2.5" stroke-linecap="butt"/>
<line x1="1084.90" y1="2077.90" x2="1084.90" y2="2091.60" stroke="#231815" stroke-width="2.5" stroke-linecap="butt"/>
<polyline points="992.40,2362.70 992.40,2421.60 1084.90,2421.60 1084.90,2397.00" fill="none" stroke="#231815" stroke-width="2.4" stroke-linejoin="miter"/>
<text stroke="#231815" stroke-width="0.7" stroke-linejoin="round" x="1024.11" y="2444.39" font-family='"Liberation Sans"' font-weight="400" font-size="26.83" textLength="29.24" lengthAdjust="spacingAndGlyphs" fill="#231815">ns</text>
<text x="974.08" y="2069.74" font-family='"Liberation Sans"' font-weight="700" font-size="27.12" textLength="37.23" lengthAdjust="spacingAndGlyphs" fill="#231815">NC</text>
<text x="1067.83" y="2069.74" font-family='"Liberation Sans"' font-weight="700" font-size="27.12" textLength="36.29" lengthAdjust="spacingAndGlyphs" fill="#231815">CS</text>
<text x="914.70" y="2101.20" font-family='"Liberation Sans"' font-weight="700" font-size="26.80" text-anchor="end" fill="#231815">0</text>
<text x="914.70" y="2182.00" font-family='"Liberation Sans"' font-weight="700" font-size="26.80" text-anchor="end" fill="#231815">- </text><path d="M906.05,2182.00 L906.05,2166.69 L901.63,2169.45 L901.63,2166.56 L906.25,2163.56 L909.73,2163.56 L909.73,2182.00 Z" fill="#231815"/>
<text x="914.70" y="2263.10" font-family='"Liberation Sans"' font-weight="700" font-size="26.80" text-anchor="end" fill="#231815">-2</text>
<text x="914.70" y="2344.20" font-family='"Liberation Sans"' font-weight="700" font-size="26.80" text-anchor="end" fill="#231815">-3</text>
<text x="914.70" y="2425.40" font-family='"Liberation Sans"' font-weight="700" font-size="26.80" text-anchor="end" fill="#231815">-4</text>
<text x="-2.10" y="0.00" font-family='"Liberation Sans"' font-weight="700" font-size="34.45" textLength="343.69" lengthAdjust="spacingAndGlyphs" fill="#231815" transform="translate(847.80,2427.30) rotate(-90)">Responses of Off Cells</text>
<text x="-1.27" y="0.00" font-family='"Liberation Sans"' font-weight="700" font-size="31.55" textLength="110.95" lengthAdjust="spacingAndGlyphs" fill="#231815" transform="translate(885.09,2312.10) rotate(-90)">z-score</text>
</svg>
</body></html>
